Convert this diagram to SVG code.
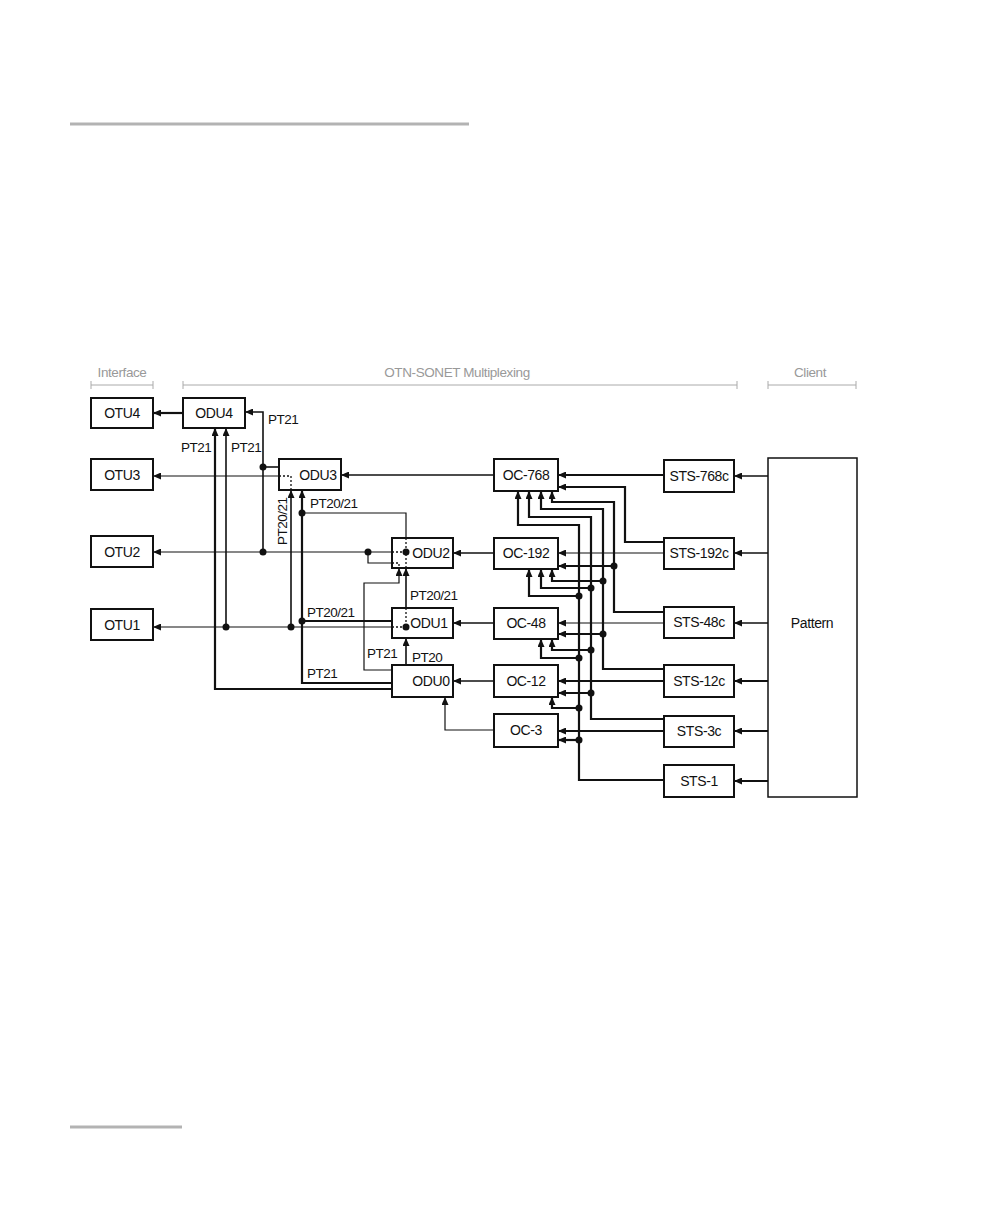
<svg xmlns="http://www.w3.org/2000/svg" width="1008" height="1224" viewBox="0 0 1008 1224">
<style>
.box{fill:#fff;stroke:#111;stroke-width:2}
.pb{fill:#fff;stroke:#111;stroke-width:1.5}
.t{font-family:"Liberation Sans",Arial,sans-serif;font-size:14px;letter-spacing:-0.4px;fill:#111;text-anchor:middle}
.l{font-family:"Liberation Sans",Arial,sans-serif;font-size:13.5px;letter-spacing:-0.5px;fill:#111}
.h{font-family:"Liberation Sans",Arial,sans-serif;font-size:13.5px;letter-spacing:-0.4px;fill:#999;text-anchor:middle}
.hl{stroke:#aaa;stroke-width:1;fill:none}
.thin{stroke:#111;stroke-width:1.2;fill:none}
.med{stroke:#111;stroke-width:1.6;fill:none}
.thick{stroke:#111;stroke-width:2.2;fill:none}
.dt{stroke:#111;stroke-width:1.3;stroke-dasharray:2 2;fill:none}
.dot{fill:#111}
.rule{stroke:#b3b3b3;stroke-width:3}
</style>
<defs>
<marker id="a" viewBox="0 0 8 7" refX="8" refY="3.5" markerWidth="8" markerHeight="7" markerUnits="userSpaceOnUse" orient="auto"><path d="M0,0L8,3.5L0,7z" fill="#111"/></marker>
</defs>
<line class="rule" x1="70" y1="124" x2="469" y2="124"/>
<line class="rule" x1="70" y1="1127" x2="182" y2="1127"/>
<g id="header">
<text class="h" x="122" y="377">Interface</text>
<path class="hl" d="M91,385H153M91,381V389M153,381V389"/>
<text class="h" x="457" y="377">OTN-SONET Multiplexing</text>
<path class="hl" d="M183,385H737M183,381V389M737,381V389"/>
<text class="h" x="810" y="377">Client</text>
<path class="hl" d="M768,385H856M768,381V389M856,381V389"/>
</g>
<g id="connectors">
<path class="thick" marker-end="url(#a)" d="M183,413H153"/>
<path class="thin" marker-end="url(#a)" d="M279,476H153"/>
<path class="thin" marker-end="url(#a)" d="M392,552H153"/>
<path class="thin" marker-end="url(#a)" d="M392,627H153"/>
<path class="med" marker-end="url(#a)" d="M494,475H341"/>
<path class="med" marker-end="url(#a)" d="M494,553H453"/>
<path class="med" marker-end="url(#a)" d="M494,623H453"/>
<path class="med" marker-end="url(#a)" d="M494,681H453"/>
<path class="thin" marker-end="url(#a)" d="M494,730H445V697"/>
<path class="med" d="M279,467H263"/>
<path class="med" marker-end="url(#a)" d="M263,552V412H245"/>
<path class="thick" marker-end="url(#a)" d="M392,689H215V428"/>
<path class="med" marker-end="url(#a)" d="M226,627V428"/>
<path class="med" marker-end="url(#a)" d="M291,627V490"/>
<path class="thick" marker-end="url(#a)" d="M392,683H302V490"/>
<path class="thick" d="M392,621H302"/>
<path class="thin" d="M406,538V513H302"/>
<path class="med" marker-end="url(#a)" d="M406,608V568"/>
<path class="thin" marker-end="url(#a)" d="M392,670H364V583H399V568"/>
<path class="thin" d="M368,552V563H392"/>
<path class="med" marker-end="url(#a)" d="M406,665V638"/>
<path class="dt" d="M279,476H291V490"/>
<path class="dt" d="M392,552H404M406,538V568M392,563H399V568"/>
<path class="dt" d="M392,627H404M406,608V627"/>
<circle class="dot" cx="263" cy="467" r="3.5"/>
<circle class="dot" cx="263" cy="552" r="3.5"/>
<circle class="dot" cx="368" cy="552" r="3.5"/>
<circle class="dot" cx="226" cy="627" r="3.5"/>
<circle class="dot" cx="291" cy="627" r="3.5"/>
<circle class="dot" cx="302" cy="513" r="3.5"/>
<circle class="dot" cx="302" cy="621" r="3.5"/>
<circle class="dot" cx="406" cy="552" r="3.5"/>
<circle class="dot" cx="406" cy="627" r="3.5"/>
<path class="thick" marker-end="url(#a)" d="M664,475H558"/>
<path class="thick" marker-end="url(#a)" d="M664,542H625V487H558"/>
<path class="thin" marker-end="url(#a)" d="M664,553H558"/>
<path class="thick" marker-end="url(#a)" d="M664,612H614V502H552V491"/>
<path class="thin" marker-end="url(#a)" d="M664,623H558"/>
<path class="thick" marker-end="url(#a)" d="M614,566H558"/>
<path class="thick" marker-end="url(#a)" d="M664,669H603V509H541V491"/>
<path class="thick" marker-end="url(#a)" d="M603,581H552V569"/>
<path class="thick" marker-end="url(#a)" d="M603,634H558"/>
<path class="thick" marker-end="url(#a)" d="M664,681H558"/>
<path class="thick" marker-end="url(#a)" d="M664,719H591V517H529V491"/>
<path class="thick" marker-end="url(#a)" d="M591,588H541V569"/>
<path class="thick" marker-end="url(#a)" d="M591,650H552V639"/>
<path class="thick" marker-end="url(#a)" d="M591,693H558"/>
<path class="thick" marker-end="url(#a)" d="M664,731H558"/>
<path class="thick" marker-end="url(#a)" d="M664,780H579V525H518V491"/>
<path class="thick" marker-end="url(#a)" d="M579,596H529V569"/>
<path class="thick" marker-end="url(#a)" d="M579,658H541V639"/>
<path class="thick" marker-end="url(#a)" d="M579,708H552V697"/>
<path class="thick" marker-end="url(#a)" d="M579,740H558"/>
<circle class="dot" cx="614" cy="566" r="3.5"/>
<circle class="dot" cx="603" cy="581" r="3.5"/>
<circle class="dot" cx="603" cy="634" r="3.5"/>
<circle class="dot" cx="591" cy="588" r="3.5"/>
<circle class="dot" cx="591" cy="650" r="3.5"/>
<circle class="dot" cx="591" cy="693" r="3.5"/>
<circle class="dot" cx="579" cy="596" r="3.5"/>
<circle class="dot" cx="579" cy="658" r="3.5"/>
<circle class="dot" cx="579" cy="708" r="3.5"/>
<circle class="dot" cx="579" cy="740" r="3.5"/>
<path class="med" marker-end="url(#a)" d="M768,476H734"/>
<path class="med" marker-end="url(#a)" d="M768,553H734"/>
<path class="med" marker-end="url(#a)" d="M768,623H734"/>
<path class="thick" marker-end="url(#a)" d="M768,681H734"/>
<path class="thick" marker-end="url(#a)" d="M768,731H734"/>
<path class="thick" marker-end="url(#a)" d="M768,781H734"/>
<text class="l" x="268" y="424">PT21</text>
<text class="l" x="181" y="452">PT21</text>
<text class="l" x="231" y="452">PT21</text>
<text class="l" x="310" y="508">PT20/21</text>
<text class="l" x="287" y="545" transform="rotate(-90 287 545)">PT20/21</text>
<text class="l" x="307" y="617">PT20/21</text>
<text class="l" x="410" y="600">PT20/21</text>
<text class="l" x="367" y="658">PT21</text>
<text class="l" x="412" y="662">PT20</text>
<text class="l" x="307" y="678">PT21</text>
</g>
<g id="OTU4"><rect class="box" x="91" y="398" width="62" height="30"/><text class="t" x="122" y="418">OTU4</text></g>
<g id="OTU3"><rect class="box" x="91" y="459" width="62" height="31"/><text class="t" x="122" y="480">OTU3</text></g>
<g id="OTU2"><rect class="box" x="91" y="536" width="62" height="31"/><text class="t" x="122" y="557">OTU2</text></g>
<g id="OTU1"><rect class="box" x="91" y="609" width="62" height="31"/><text class="t" x="122" y="630">OTU1</text></g>
<g id="ODU4"><rect class="box" x="183" y="398" width="62" height="30"/><text class="t" x="214" y="418">ODU4</text></g>
<g id="ODU3"><rect class="box" x="279" y="459" width="62" height="31" style="fill:none"/><text class="t" x="318" y="480">ODU3</text></g>
<g id="ODU2"><rect class="box" x="392" y="538" width="61" height="30" style="fill:none"/><text class="t" x="431" y="558">ODU2</text></g>
<g id="ODU1"><rect class="box" x="392" y="608" width="61" height="30" style="fill:none"/><text class="t" x="429" y="628">ODU1</text></g>
<g id="ODU0"><rect class="box" x="392" y="665" width="61" height="32"/><text class="t" x="431" y="686">ODU0</text></g>
<g id="OC-768"><rect class="box" x="494" y="459" width="64" height="32"/><text class="t" x="526" y="480">OC-768</text></g>
<g id="OC-192"><rect class="box" x="494" y="538" width="64" height="31"/><text class="t" x="526" y="558">OC-192</text></g>
<g id="OC-48"><rect class="box" x="494" y="608" width="64" height="31"/><text class="t" x="526" y="628">OC-48</text></g>
<g id="OC-12"><rect class="box" x="494" y="665" width="64" height="32"/><text class="t" x="526" y="686">OC-12</text></g>
<g id="OC-3"><rect class="box" x="494" y="714" width="64" height="33"/><text class="t" x="526" y="735">OC-3</text></g>
<g id="STS-768c"><rect class="box" x="664" y="460" width="70" height="32"/><text class="t" x="699" y="481">STS-768c</text></g>
<g id="STS-192c"><rect class="box" x="664" y="538" width="70" height="31"/><text class="t" x="699" y="558">STS-192c</text></g>
<g id="STS-48c"><rect class="box" x="664" y="607" width="70" height="31"/><text class="t" x="699" y="627">STS-48c</text></g>
<g id="STS-12c"><rect class="box" x="664" y="665" width="70" height="32"/><text class="t" x="699" y="686">STS-12c</text></g>
<g id="STS-3c"><rect class="box" x="664" y="716" width="70" height="31"/><text class="t" x="699" y="736">STS-3c</text></g>
<g id="STS-1"><rect class="box" x="664" y="765" width="70" height="32"/><text class="t" x="699" y="786">STS-1</text></g>
<g id="Pattern"><rect class="pb" x="768" y="458" width="89" height="339"/><text class="t" x="812" y="628">Pattern</text></g>
</svg>
